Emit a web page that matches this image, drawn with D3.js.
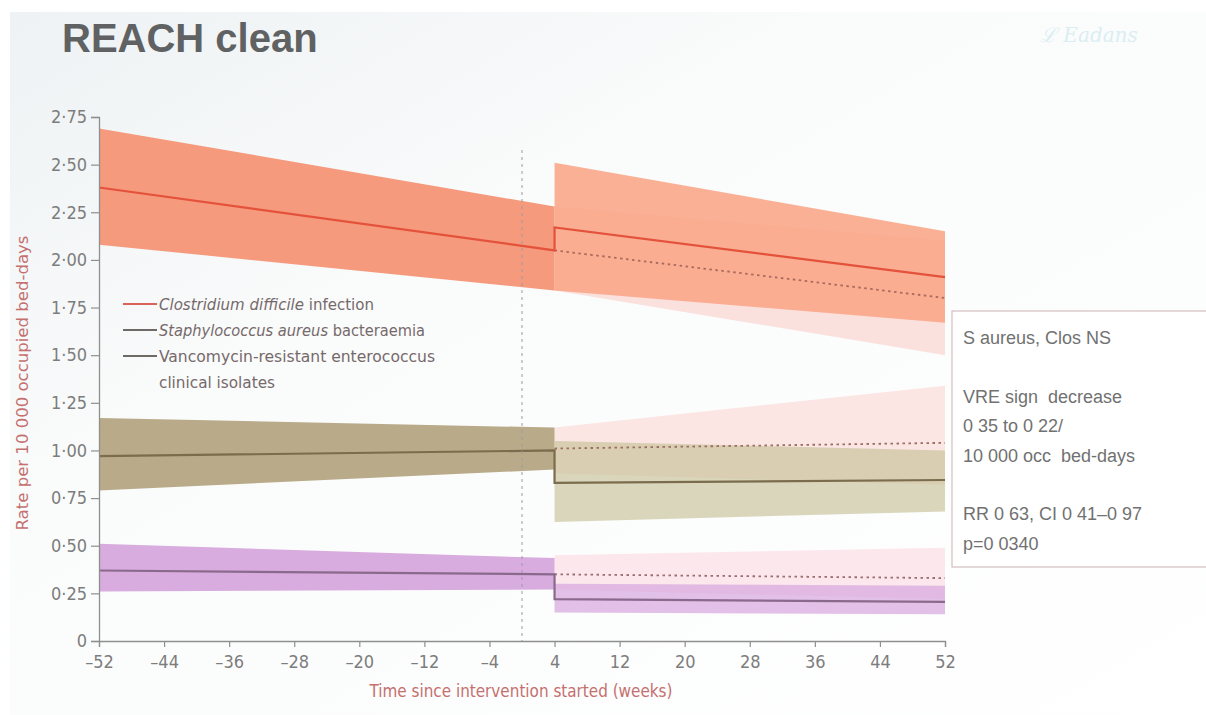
<!DOCTYPE html>
<html>
<head>
<meta charset="utf-8">
<script src="https://cdn.jsdelivr.net/npm/d3@7"></script>
<style>
  html, body { margin: 0; padding: 0; background: #ffffff; }
  svg { display: block; }
  text { white-space: pre; }
</style>
</head>
<body>
<svg id="chart" width="1206" height="715"></svg>
<script>
// ---------- DATA ----------
const title = "REACH clean";
const yTicks = [0, 0.25, 0.5, 0.75, 1.0, 1.25, 1.5, 1.75, 2.0, 2.25, 2.5, 2.75];
const xTicks = [-52, -44, -36, -28, -20, -12, -4, 4, 12, 20, 28, 36, 44, 52];
const preWeeks = [-52, 4];
const postWeeks = [4, 52];
const interventionWeek = 0;

// Clostridium difficile infection
const cdiffPre = [2.38, 2.05];
const cdiffPreLo = [2.08, 1.84];
const cdiffPreHi = [2.69, 2.28];
const cdiffPost = [2.17, 1.91];
const cdiffPostLo = [1.84, 1.67];
const cdiffPostHi = [2.51, 2.15];
const cdiffCF = [2.05, 1.80];
const cdiffCFLo = [1.84, 1.50];
const cdiffCFHi = [2.28, 2.10];

// Staphylococcus aureus bacteraemia
const saPre = [0.97, 1.00];
const saPreLo = [0.79, 0.90];
const saPreHi = [1.17, 1.12];
const saPost = [0.83, 0.845];
const saPostLo = [0.625, 0.68];
const saPostHi = [1.05, 1.00];
const saCF = [1.01, 1.04];
const saCFLo = [0.88, 0.82];
const saCFHi = [1.12, 1.34];

// Vancomycin-resistant enterococcus
const vrePre = [0.37, 0.35];
const vrePreLo = [0.26, 0.27];
const vrePreHi = [0.51, 0.435];
const vrePost = [0.22, 0.205];
const vrePostLo = [0.15, 0.14];
const vrePostHi = [0.30, 0.29];
const vreCF = [0.35, 0.33];
const vreCFLo = [0.27, 0.22];
const vreCFHi = [0.45, 0.49];

const legendItems = [
  {parts: [["Clostridium difficile", true], [" infection", false]], color: "#d9625a", len: 215},
  {parts: [["Staphylococcus aureus", true], [" bacteraemia", false]], color: "#6f6a66", len: 266},
  {parts: [["Vancomycin-resistant enterococcus", false]], color: "#6f6a66", len: 276},
  {parts: [["clinical isolates", false]], color: null, len: 116}
];
const boxLines = [
  "S aureus, Clos NS", "",
  "VRE sign  decrease", "0 35 to 0 22/", "10 000 occ  bed-days", "",
  "RR 0 63, CI 0 41\u20130 97", "p=0 0340"
];
const yLabel = "Rate per 10 000 occupied bed-days";
const xLabel = "Time since intervention started (weeks)";

// ---------- DRAW ----------
const svg = d3.select("#chart");
const condensed = "'Liberation Sans Narrow','DejaVu Sans Condensed','Roboto Condensed','Open Sans',sans-serif";

const defs = svg.append("defs");
const bg = defs.append("linearGradient").attr("id", "bg").attr("x1", "0").attr("y1", "0").attr("x2", "1").attr("y2", "1");
bg.append("stop").attr("offset", "0").attr("stop-color", "#eef2f4");
bg.append("stop").attr("offset", "0.35").attr("stop-color", "#fafbfb");
bg.append("stop").attr("offset", "1").attr("stop-color", "#ffffff");
svg.append("rect").attr("x", 10).attr("y", 12).attr("width", 1196).attr("height", 703).attr("fill", "url(#bg)");

// title
svg.append("text").attr("x", 62).attr("y", 52)
  .attr("font-family", "'Liberation Sans', Arial, sans-serif")
  .attr("font-weight", "bold").attr("font-size", 40).attr("fill", "#5f6163")
  .text(title);
// faint logo
svg.append("text").attr("x", 1040).attr("y", 42)
  .attr("font-family", "'DejaVu Serif', serif").attr("font-style", "italic")
  .attr("font-size", 20).attr("fill", "#d3ebf1").attr("opacity", 0.8).text("\u2112 Eadans");

const x = d3.scaleLinear().domain([-52, 52]).range([99, 945]);
const y = d3.scaleLinear().domain([0, 2.75]).range([641, 117]);

const area = d3.area().x(d => x(d[0])).y0(d => y(d[1])).y1(d => y(d[2]));
const line = d3.line().x(d => x(d[0])).y(d => y(d[1]));

function band(weeks, lo, hi) { return weeks.map((w, i) => [w, lo[i], hi[i]]); }
function pts(weeks, v) { return weeks.map((w, i) => [w, v[i]]); }

const series = [
  {pre: cdiffPre, preLo: cdiffPreLo, preHi: cdiffPreHi, post: cdiffPost, postLo: cdiffPostLo, postHi: cdiffPostHi,
   cf: cdiffCF, cfLo: cdiffCFLo, cfHi: cdiffCFHi,
   preFill: "#f59a7d", postFill: "#f9a586", postOp: 0.88, cfFill: "#fbe1dd", line: "#e4523b", dash: "#a86a5e"},
  {pre: saPre, preLo: saPreLo, preHi: saPreHi, post: saPost, postLo: saPostLo, postHi: saPostHi,
   cf: saCF, cfLo: saCFLo, cfHi: saCFHi,
   preFill: "#b9ab8a", postFill: "#c4bf93", postOp: 0.62, cfFill: "#fbe6e4", line: "#7a6c4c", dash: "#9a6e62"},
  {pre: vrePre, preLo: vrePreLo, preHi: vrePreHi, post: vrePost, postLo: vrePostLo, postHi: vrePostHi,
   cf: vreCF, cfLo: vreCFLo, cfHi: vreCFHi,
   preFill: "#d8acde", postFill: "#d7a8de", postOp: 0.72, cfFill: "#fbe7ec", line: "#8a6a8c", dash: "#9a6e70"}
];

const g = svg.append("g");
series.forEach(s => {
  g.append("path").attr("d", area(band(postWeeks, s.cfLo, s.cfHi))).attr("fill", s.cfFill);
});
series.forEach(s => {
  g.append("path").attr("d", area(band(preWeeks, s.preLo, s.preHi))).attr("fill", s.preFill);
  g.append("path").attr("d", area(band(postWeeks, s.postLo, s.postHi))).attr("fill", s.postFill).attr("opacity", s.postOp);
});
series.forEach(s => {
  g.append("path").attr("d", line(pts(postWeeks, s.cf))).attr("fill", "none")
    .attr("stroke", s.dash).attr("stroke-width", 1.8).attr("stroke-dasharray", "2.5,3.5");
  const full = pts(preWeeks, s.pre).concat(pts(postWeeks, s.post));
  g.append("path").attr("d", line(full)).attr("fill", "none")
    .attr("stroke", s.line).attr("stroke-width", 2.2);
});

// intervention dashed line
svg.append("line").attr("x1", x(interventionWeek)).attr("x2", x(interventionWeek))
  .attr("y1", 150).attr("y2", y(0))
  .attr("stroke", "#9a9ca0").attr("stroke-width", 1).attr("stroke-dasharray", "3,4");

// axes
const yAxis = svg.append("g").attr("transform", `translate(${x(-52)},0)`)
  .call(d3.axisLeft(y).tickValues(yTicks).tickSize(8).tickPadding(4)
    .tickFormat(d => d === 0 ? "0" : d3.format(".2f")(d).replace(".", "\u00b7")));
const xAxis = svg.append("g").attr("transform", `translate(0,${y(0)})`)
  .call(d3.axisBottom(x).tickValues(xTicks).tickSize(6).tickPadding(8)
    .tickFormat(d => d < 0 ? "\u2013" + Math.abs(d) : String(d)));
[yAxis, xAxis].forEach(a => {
  a.select(".domain").attr("stroke", "#8f8f8f").attr("stroke-width", 1.3);
  a.selectAll(".tick line").attr("stroke", "#8f8f8f").attr("stroke-width", 1.2);
  a.selectAll(".tick text").attr("fill", "#7d7d7d").attr("font-size", 18).attr("font-family", condensed);
});

// axis labels
svg.append("text").attr("transform", `translate(28,383) rotate(-90)`)
  .attr("text-anchor", "middle").attr("font-family", condensed).attr("font-size", 16)
  .attr("textLength", 295).attr("lengthAdjust", "spacingAndGlyphs")
  .attr("fill", "#c4706e").text(yLabel);
svg.append("text").attr("x", 521).attr("y", 697)
  .attr("text-anchor", "middle").attr("font-family", condensed).attr("font-size", 17)
  .attr("textLength", 303).attr("lengthAdjust", "spacingAndGlyphs")
  .attr("fill", "#c4706e").text(xLabel);

// legend
const lg = svg.append("g").attr("font-family", condensed).attr("font-size", 16.5).attr("fill", "#76696a");
legendItems.forEach((it, i) => {
  const yy = 304 + i * 26;
  if (it.color) {
    lg.append("line").attr("x1", 123).attr("x2", 157).attr("y1", yy).attr("y2", yy)
      .attr("stroke", it.color).attr("stroke-width", 2);
  }
  const t = lg.append("text").attr("x", 159).attr("y", yy + 6)
    .attr("textLength", it.len).attr("lengthAdjust", "spacingAndGlyphs");
  it.parts.forEach(p => {
    t.append("tspan").attr("font-style", p[1] ? "italic" : "normal").text(p[0]);
  });
});

// annotation box
svg.append("rect").attr("x", 952).attr("y", 311).attr("width", 262).attr("height", 256)
  .attr("fill", "#ffffff").attr("stroke", "#d6c4c4").attr("stroke-width", 1.3);
const bt = svg.append("g").attr("font-family", "'Liberation Sans', Arial, sans-serif")
  .attr("font-size", 18).attr("fill", "#717171");
boxLines.forEach((l, i) => {
  if (l) bt.append("text").attr("x", 963).attr("y", 344 + i * 29.4).text(l);
});
</script>
</body>
</html>
